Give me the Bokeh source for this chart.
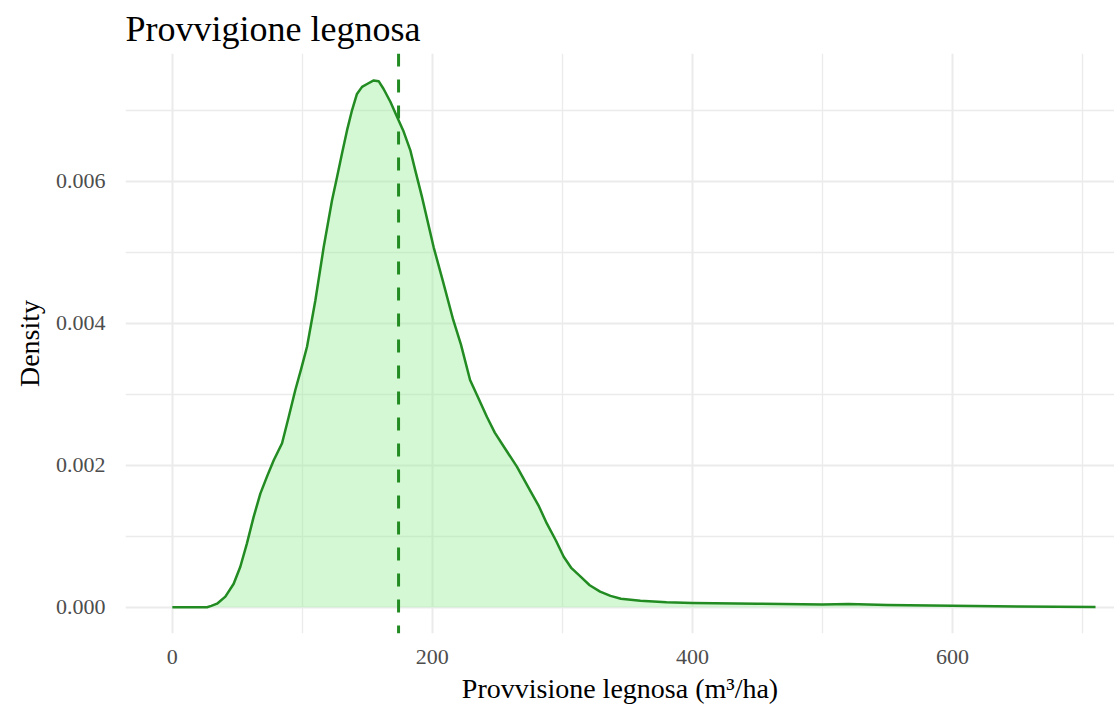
from bokeh.plotting import figure
from bokeh.models import Range1d, FixedTicker, Span
from bokeh.embed import file_html
from bokeh.resources import INLINE

# Density curve
x_vals = [0, 20, 26.7, 30, 34.4, 40.8, 47.2, 52.3, 57.4, 62.5, 67.7, 72.8, 78, 84.4,
          89.5, 94.6, 99, 103.6, 110, 116.4, 122.8, 126.7, 130.5, 134.4, 138.2, 142,
          145.9, 149.8, 154.9, 158.7, 162.5, 167.7, 172.8, 177.9, 183, 186.9, 192,
          201, 208, 216, 222, 229, 235, 242, 248, 255, 265, 275, 282, 288, 295, 301,
          307, 314, 321, 329, 337, 345, 360, 380, 400, 450, 500, 520, 550, 600, 650, 710]
density = [0.0, 0.0, 0.0, 0.00002, 0.00005, 0.00015, 0.00033, 0.00057, 0.0009, 0.00127,
           0.0016, 0.00184, 0.00207, 0.00231, 0.00268, 0.00306, 0.00335, 0.00367,
           0.00432, 0.00507, 0.00573, 0.00606, 0.00639, 0.00672, 0.0070, 0.00723,
           0.00733, 0.00737, 0.00742, 0.00741, 0.0073, 0.00712, 0.00691, 0.0067,
           0.00644, 0.00615, 0.00578, 0.00507, 0.0046, 0.00405, 0.0037, 0.0032,
           0.00296, 0.00268, 0.00246, 0.00226, 0.00198, 0.00165, 0.00142, 0.00118,
           0.00094, 0.00071, 0.00055, 0.00043, 0.00031, 0.00022, 0.00016, 0.00012,
           0.00009, 0.00007, 0.00006, 0.00005, 0.00004, 0.000045, 0.00003, 0.00002,
           0.00001, 0.000005]
mean_value = 174

x_ticks = [0, 200, 400, 600]
x_minor = [100, 300, 500, 700]
y_ticks = [0.0, 0.002, 0.004, 0.006]
y_minor = [0.001, 0.003, 0.005, 0.007]
y_tick_labels = ["0.000", "0.002", "0.004", "0.006"]

title_text = "Provvigione legnosa"
x_label = "Provvisione legnosa (m\u00b3/ha)"
y_label = "Density"

FONT = "Liberation Serif"

p = figure(width=1114, height=709, output_backend="svg", toolbar_location=None,
           x_range=Range1d(-36, 724.6), y_range=Range1d(-0.00037, 0.0078),
           min_border_left=125, min_border_right=0, min_border_top=53,
           min_border_bottom=76, title=title_text)
p.outline_line_color = None
p.background_fill_color = "white"
p.border_fill_color = "white"

p.title.text_font = FONT
p.title.text_font_size = "36px"
p.title.text_font_style = "normal"
p.title.text_color = "black"

p.varea(x=x_vals, y1=[0] * len(x_vals), y2=density, fill_color="#90EE90", fill_alpha=0.4)
p.line(x_vals, density, line_color="#228B22", line_width=2.5, line_join="round")

span = Span(location=mean_value, dimension="height", line_color="#228B22",
            line_dash="13 13", line_width=3)
p.add_layout(span)

p.xaxis.ticker = FixedTicker(ticks=x_ticks, minor_ticks=x_minor)
p.yaxis.ticker = FixedTicker(ticks=y_ticks, minor_ticks=y_minor)
p.yaxis.major_label_overrides = {t: l for t, l in zip(y_ticks, y_tick_labels)}

for ax in (p.xaxis, p.yaxis):
    ax.axis_line_color = None
    ax.major_tick_line_color = None
    ax.minor_tick_line_color = None
    ax.major_label_text_font = FONT
    ax.major_label_text_font_size = "22px"
    ax.major_label_text_color = "#4d4d4d"
    ax.axis_label_text_font = FONT
    ax.axis_label_text_font_size = "28px"
    ax.axis_label_text_font_style = "normal"
    ax.axis_label_text_color = "black"

p.xaxis.axis_label = x_label
p.yaxis.axis_label = y_label
p.xaxis.major_label_standoff = 10
p.yaxis.major_label_standoff = 14
p.xaxis.axis_label_standoff = 6
p.yaxis.axis_label_standoff = 8

for g in (p.xgrid, p.ygrid):
    g.grid_line_color = "#ebebeb"
    g.grid_line_width = 2
    g.minor_grid_line_color = "#ebebeb"
    g.minor_grid_line_width = 1.3

open("out.html", "w").write(file_html(p, INLINE))
